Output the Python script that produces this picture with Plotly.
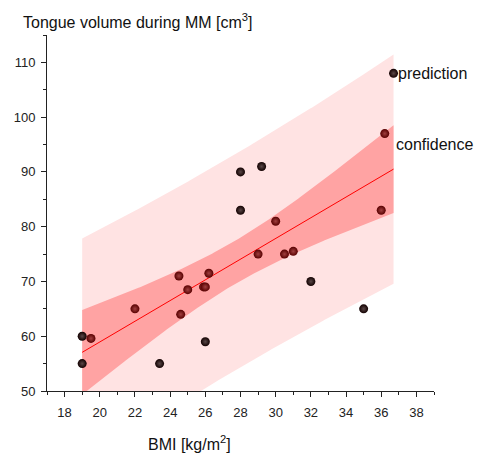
import numpy as np
import plotly.graph_objects as go

# ---- data ----
bmi = [19.0, 19.5, 19.0, 22.0, 23.4, 24.5, 24.6, 25.0, 25.9, 26.0, 26.2, 26.0,
       28.0, 29.2, 28.0, 30.0, 29.0, 30.5, 31.0, 32.0, 36.7, 36.2, 36.0, 35.0]
volume = [60.0, 59.6, 55.0, 65.0, 55.0, 71.0, 64.0, 68.5, 69.0, 69.0, 71.5, 59.0,
          90.0, 91.0, 83.0, 81.0, 75.0, 75.0, 75.5, 70.0, 108.0, 97.0, 83.0, 65.0]
tone = ["k", "r", "k", "r", "k", "r", "r", "r", "r", "r", "r", "k",
        "k", "k", "k", "r", "r", "r", "r", "k", "k", "r", "r", "k"]
x_ticks = list(range(18, 39, 2))
y_ticks = list(range(50, 111, 10))
band_labels = ["prediction", "confidence"]

# ---- linear fit with 95% confidence / prediction bands ----
x = np.array(bmi)
y = np.array(volume)
n = len(x)
b, a = np.polyfit(x, y, 1)
s = np.sqrt(np.sum((y - (a + b * x)) ** 2) / (n - 2))
t = 2.0739  # t(0.975, df=22)
xs = np.linspace(x.min(), x.max(), 200)
fit = a + b * xs
h = 1 / n + (xs - x.mean()) ** 2 / np.sum((x - x.mean()) ** 2)
conf = t * s * np.sqrt(h)
pred = t * s * np.sqrt(1 + h)

FONT = "Arial, Liberation Sans, sans-serif"
fig = go.Figure()

fig.add_trace(go.Scatter(
    x=np.concatenate([xs, xs[::-1]]), y=np.concatenate([fit + pred, (fit - pred)[::-1]]),
    fill="toself", fillcolor="rgb(255,227,227)", line=dict(width=0), mode="lines",
    hoverinfo="skip", showlegend=False))
fig.add_trace(go.Scatter(
    x=np.concatenate([xs, xs[::-1]]), y=np.concatenate([fit + conf, (fit - conf)[::-1]]),
    fill="toself", fillcolor="rgb(255,163,163)", line=dict(width=0), mode="lines",
    hoverinfo="skip", showlegend=False))
fig.add_trace(go.Scatter(x=xs, y=fit, mode="lines", line=dict(color="#ff0000", width=1),
                         showlegend=False))

col = {"k": "#120000", "r": "#580000"}
hi = {"k": "#5a4848", "r": "#a04040"}
fig.add_trace(go.Scatter(
    x=bmi, y=volume, mode="markers", showlegend=False,
    marker=dict(size=9, color=[col[c] for c in tone], line=dict(width=0),
                gradient=dict(type="radial", color=[hi[c] for c in tone]))))

fig.add_annotation(x=xs[-1], y=fit[-1] + pred[-1], text=band_labels[0], showarrow=False,
                   xanchor="left", yanchor="middle", xshift=2, yshift=-19,
                   font=dict(family=FONT, size=16, color="#111"))
fig.add_annotation(x=xs[-1], y=fit[-1] + conf[-1], text=band_labels[1], showarrow=False,
                   xanchor="left", yanchor="middle", xshift=0, yshift=-19,
                   font=dict(family=FONT, size=16, color="#111"))
fig.add_annotation(xref="paper", yref="paper", x=-0.066, y=1.04, xanchor="left",
                   yanchor="middle", showarrow=False,
                   text="Tongue volume during MM [cm<sup>3</sup>]",
                   font=dict(family=FONT, size=16, color="#111"))
fig.add_annotation(xref="paper", yref="paper", x=0.367, y=-0.146, xanchor="center",
                   yanchor="middle", showarrow=False, text="BMI [kg/m<sup>2</sup>]",
                   font=dict(family=FONT, size=16, color="#111"))

axis_common = dict(showgrid=False, zeroline=False, showline=True, linecolor="#222",
                   linewidth=1, ticks="outside", ticklen=5, tickcolor="#222",
                   tickfont=dict(family=FONT, size=13, color="#222"))
fig.update_xaxes(range=[17, 39], tickvals=x_ticks,
                 minor=dict(dtick=1, tick0=17, ticks="outside", ticklen=3, tickcolor="#222"),
                 ticklabelstandoff=4, **axis_common)
fig.update_yaxes(range=[50, 115], tickvals=y_ticks,
                 minor=dict(dtick=5, tick0=50, ticks="outside", ticklen=3, tickcolor="#222"),
                 ticklabelstandoff=3, **axis_common)

fig.update_layout(width=479, height=455, margin=dict(l=47, r=45, t=35, b=64),
                  paper_bgcolor="white", plot_bgcolor="white",
                  font=dict(family=FONT))
fig.write_html("out.html")
